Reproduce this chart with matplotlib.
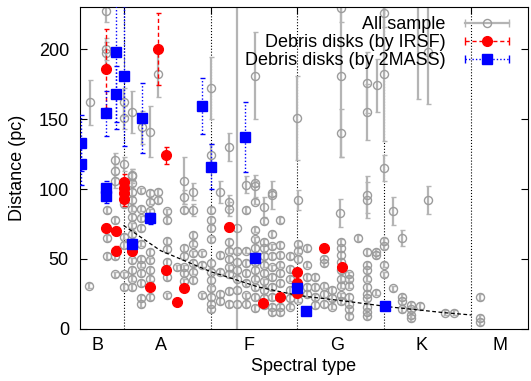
import matplotlib
matplotlib.use('Agg')
import matplotlib.pyplot as plt
from matplotlib.lines import Line2D
from matplotlib.legend_handler import HandlerLine2D, HandlerTuple

plt.rcParams['font.family'] = ['Liberation Sans', 'DejaVu Sans']

# spectral type axis: 0 = A0, 10 = F0, 20 = G0, 30 = K0, 40 = M0
class_bounds = [0, 10, 20, 30, 40]
class_names = ['B', 'A', 'F', 'G', 'K', 'M']
class_pos = [-3, 4.3, 14.4, 24.5, 34.3, 43.3]

# all sample, points with large error bars (x, y, err)
gray_big = [
    (-2, 227, 8), (-2, 200, 8), (-2, 197, 8), (-3.9, 162, 16), (0, 162, 10),
    (0, 151, 8), (1, 155, 15), (2.1, 144, 12), (3.1, 141, 18), (4, 182, 16),
    (7, 106, 17), (10.1, 172, 22), (10.1, 124, 8), (12.1, 130, 10),
    (13, 72, 200), (15.1, 181, 31), (20, 151, 30), (25, 229, 10),
    (25, 181, 58), (25, 140, 17), (28, 176, 22), (28, 155, 20),
    (29.1, 174, 19), (30, 226, 10), (30, 182, 48), (30, 115, 9),
    (33.9, 245, 81), (35, 198, 37), (35, 92, 10), (31, 84, 10), (28, 96, 13),
    (28, 92, 13), (32, 65, 6), (24.9, 83, 10), (17.1, 96, 10), (16.1, 87, 7),
    (20.1, 92, 7), (15.1, 102, 8), (-1, 121, 5), (-1, 113, 5), (0, 118, 5),
    (1, 109, 5), (11.1, 98, 8), (14.1, 103, 6), (8, 98, 6), (7, 94, 5),
    (1, 110, 4), (-1, 106, 5), (12.1, 91, 5), (12.1, 86, 5), (8, 85, 4),
]

# all sample, dense points with small errors: spectral type -> distances
gray_cols = {
    -4: [31],
    -1.9: [85, 65, 52],
    -1: [78, 52, 39],
    0: [89, 66, 60, 39, 30],
    1: [104, 98, 92, 86, 80, 74, 68, 49, 42, 36, 30],
    2: [99, 86, 79, 72, 61, 50, 46, 40, 33, 22, 18],
    3.1: [97, 91, 84, 55, 49, 42, 36, 23],
    4: [98, 92],
    5: [84, 78, 63, 57, 48, 37, 24],
    6.1: [44],
    7: [85, 58, 52, 44, 40, 34],
    8: [67, 61, 54, 47, 41, 35],
    9: [54, 46, 24],
    10.1: [85, 78, 72, 64, 47, 41, 35, 29, 23, 18, 14],
    11.1: [53, 41, 25, 20],
    12.1: [62, 56, 50, 44, 39, 27, 18],
    13.1: [56, 48, 42, 36, 28, 18],
    14.1: [85, 56, 47, 40, 33, 24, 18],
    15.1: [104, 91, 71, 64, 58, 48, 42, 36, 30, 23, 15],
    16.1: [77, 62, 58, 52, 46, 40, 34, 28, 22, 17],
    17.1: [97, 68, 59, 52, 44, 37, 30, 23, 16, 12],
    18: [78, 60, 53, 46, 40, 33, 16, 12],
    19.1: [52, 43, 36, 28, 22, 16],
    20.1: [61, 56, 50, 21],
    21.1: [58, 46, 37, 30, 25],
    22: [37, 30, 23, 17],
    23.1: [50, 47, 31, 25, 18],
    24: [28, 22, 16],
    25: [62, 58, 53, 48, 42, 36, 31, 24, 20],
    25.9: [39, 36, 31, 23, 18, 14, 9],
    27: [65],
    28: [55, 46, 42, 36, 30, 25, 22, 16, 12, 9],
    29: [55, 53, 26],
    30: [63, 59, 46, 39],
    31: [29],
    32: [23, 20, 14],
    33: [17, 14, 10, 8],
    34.1: [16.5],
    37: [11.7],
    38: [11.7],
    41: [23, 8, 5],
}

# debris disks by IRSF (x, y, err)
irsf = [
    (-2, 186, 28), (4, 200, 26), (4.9, 124, 6), (0, 105, 6), (0, 101, 6),
    (0, 97, 6), (0, 93, 5), (-2, 72, 3), (-0.9, 70, 3), (-0.9, 56, 3),
    (1, 56, 3), (4.9, 42, 2), (3.1, 30, 2), (7, 29, 2), (6.1, 19, 1),
    (12.1, 73, 3), (16, 18.5, 1), (18, 23, 1), (20, 41, 2), (20, 33, 2),
    (20, 26, 1), (23.1, 58, 2), (25.1, 44, 2),
]

# debris disks by 2MASS (x, y, err)
twomass = [
    (-4.9, 133, 20), (-4.9, 118, 15), (-2, 154, 16), (-0.9, 198, 55),
    (-0.9, 168, 20), (0.1, 181, 50), (2.1, 151, 25), (9, 159, 20),
    (14, 137, 25), (10.1, 116, 16), (-2, 101, 5), (-2, 95, 5), (1, 61, 3),
    (3.1, 79, 4), (15.1, 51, 3), (20, 29, 2), (21, 13, 1), (30.1, 16.7, 2),
]

# dashed detection limit curve
curve_x = [0, 4.25, 10, 15.5, 20, 26, 31, 36.8, 40]
curve_y = [74, 56, 41, 30, 24, 19.5, 15.5, 11.7, 10]

gx = [p[0] for p in gray_big]
gy = [p[1] for p in gray_big]
ge = [p[2] for p in gray_big]
for k, ys in gray_cols.items():
    for v in ys:
        gx.append(k)
        gy.append(v)
        ge.append(2)

fig = plt.figure(figsize=(5.31, 3.81), dpi=100)
ax = fig.add_axes([0.1507, 0.1365, 0.8437, 0.8451])

for b in class_bounds:
    ax.axvline(b, color='black', ls=':', lw=0.8, zorder=1)

gray_c = '#9c9c9c'
ax.errorbar(gx, gy, yerr=ge, fmt='o', mfc='none', mec=gray_c, mew=1.0, ms=5.8,
            ecolor='#b4b4b4', elinewidth=1.6, capsize=1.8, capthick=1.0, zorder=2)

ax.plot(curve_x, curve_y, color='black', ls=(0, (3, 2)), lw=0.9, zorder=3)

r = ax.errorbar([p[0] for p in irsf], [p[1] for p in irsf], yerr=[p[2] for p in irsf],
                fmt='o', color='red', ms=7, ecolor='red', elinewidth=1.0,
                capsize=1.8, capthick=1.0, zorder=4)
r[2][0].set_linestyle((0, (3, 2)))

b_ = ax.errorbar([p[0] for p in twomass], [p[1] for p in twomass], yerr=[p[2] for p in twomass],
                 fmt='s', color='blue', ms=7, ecolor='blue', elinewidth=1.0,
                 capsize=1.8, capthick=1.0, zorder=5)
b_[2][0].set_linestyle((0, (1, 1.5)))

ax.set_xlim(-5, 46.5)
ax.set_ylim(0, 230)

ax.set_xticks(class_bounds)
ax.set_xticklabels([])
ax.set_xticks(class_pos, minor=True)
ax.set_xticklabels(class_names, minor=True)
ax.tick_params(axis='x', which='major', direction='in', length=5, top=True, bottom=False)
ax.tick_params(axis='x', which='minor', length=0, labelsize=13, pad=6)
ax.set_yticks([0, 50, 100, 150, 200])
ax.tick_params(axis='y', direction='in', length=5, right=True, labelsize=13, pad=8)

ax.set_xlabel('Spectral type', fontsize=13, labelpad=3)
ax.set_ylabel('Distance (pc)', fontsize=13, labelpad=9)

# legend handles in gnuplot style: horizontal bar with caps and a marker
cap_all = Line2D([], [], color='#b4b4b4', lw=1.6, marker='|', ms=6, mew=1.0)
h_all = (cap_all, Line2D([], [], ls='none', marker='o', mfc='none', mec=gray_c, ms=5.8))
cap_red = Line2D([], [], color='red', ls=(0, (3, 2)), lw=1.0, marker='|', ms=6, mew=1.0)
h_red = (cap_red, Line2D([], [], ls='none', marker='o', color='red', ms=7))
cap_blue = Line2D([], [], color='blue', ls=(0, (1, 1.5)), lw=1.0, marker='|', ms=6, mew=1.0)
h_blue = (cap_blue, Line2D([], [], ls='none', marker='s', color='blue', ms=7))

hm = {cap_all: HandlerLine2D(numpoints=2), cap_red: HandlerLine2D(numpoints=2),
      cap_blue: HandlerLine2D(numpoints=2), tuple: HandlerTuple(ndivide=1, pad=0)}
ax.legend([h_all, h_red, h_blue],
          ['All sample', 'Debris disks (by IRSF)', 'Debris disks (by 2MASS)'],
          handler_map=hm, loc='upper right', bbox_to_anchor=(0.997, 1.01),
          frameon=False, markerfirst=False, fontsize=13, handlelength=3.0,
          handletextpad=0.8, labelspacing=0.05, borderaxespad=0.3)

fig.savefig('out.png', dpi=100)
